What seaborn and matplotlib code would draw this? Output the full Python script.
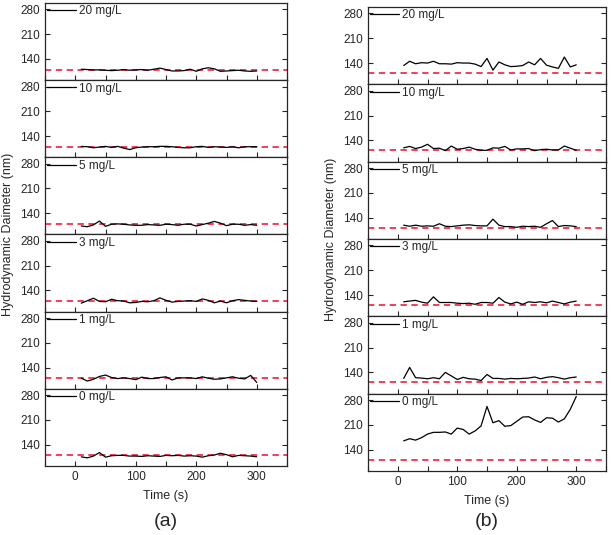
import numpy as np
import matplotlib
matplotlib.use('Agg')
import matplotlib.pyplot as plt
from matplotlib.ticker import MultipleLocator
import seaborn as sns

# ===== DATA =====
time_s = [10, 20, 30, 40, 50, 60, 70, 80, 90, 100, 110, 120, 130, 140, 150,
          160, 170, 180, 190, 200, 210, 220, 230, 240, 250, 260, 270, 280, 290, 300]
concentrations = ['20 mg/L', '10 mg/L', '5 mg/L', '3 mg/L', '1 mg/L', '0 mg/L']

# panel (a)
a_20 = [111, 110, 109, 109, 108, 107, 108, 110, 108, 109, 110, 108, 111, 114, 110,
        106, 106, 107, 111, 105, 112, 115, 112, 105, 106, 107, 108, 106, 105, 106]
a_10 = [111, 110, 107, 109, 111, 108, 111, 106, 102, 107, 109, 110, 110, 111, 111,
        110, 108, 107, 107, 110, 111, 108, 110, 109, 108, 110, 107, 110, 110, 110]
a_5 = [104, 102, 107, 118, 103, 109, 110, 109, 107, 106, 106, 108, 107, 106, 109,
       108, 106, 109, 109, 104, 108, 112, 117, 112, 105, 109, 109, 106, 108, 106]
a_3 = [104, 111, 118, 109, 108, 115, 111, 110, 105, 106, 109, 108, 111, 119, 112,
       107, 109, 110, 111, 109, 116, 112, 105, 110, 105, 111, 114, 112, 110, 109]
a_1 = [110, 102, 107, 115, 119, 112, 109, 111, 109, 106, 113, 109, 109, 112, 114,
       105, 111, 111, 111, 109, 114, 110, 107, 108, 111, 114, 110, 108, 118, 98]
a_0 = [106, 103, 108, 118, 105, 109, 110, 110, 108, 108, 107, 109, 108, 107, 110,
       109, 110, 108, 109, 108, 105, 109, 111, 116, 112, 106, 110, 109, 108, 106]
a_ref = 110

# panel (b)
b_20 = [133, 145, 138, 141, 140, 145, 138, 138, 137, 141, 140, 140, 137, 130, 153,
        120, 143, 135, 130, 131, 133, 143, 135, 153, 134, 129, 125, 157, 129, 135]
b_10 = [119, 123, 117, 121, 129, 117, 118, 111, 124, 115, 117, 121, 115, 112, 112,
        119, 118, 123, 113, 116, 116, 117, 111, 114, 115, 113, 113, 124, 118, 112]
b_5 = [119, 116, 119, 116, 117, 116, 123, 116, 115, 117, 119, 120, 118, 117, 117,
       136, 119, 115, 115, 113, 116, 115, 116, 113, 123, 132, 115, 118, 117, 115]
b_3 = [121, 123, 125, 120, 117, 135, 119, 119, 119, 117, 116, 117, 114, 119, 119,
       117, 133, 120, 115, 120, 114, 121, 119, 121, 118, 123, 119, 115, 120, 123]
b_1 = [123, 154, 125, 124, 122, 125, 122, 140, 130, 120, 126, 122, 121, 117, 134,
       123, 123, 121, 123, 122, 123, 124, 127, 122, 126, 128, 125, 121, 125, 127]
b_0 = [165, 171, 167, 174, 184, 189, 189, 190, 184, 201, 197, 184, 193, 207, 262,
       216, 222, 206, 208, 220, 232, 233, 224, 217, 230, 229, 218, 227, 254, 290]
b_ref = 112

panel_a = [a_20, a_10, a_5, a_3, a_1, a_0]
panel_b = [b_20, b_10, b_5, b_3, b_1, b_0]

# ===== STYLE =====
sns.set_style('ticks')
plt.rcParams['font.family'] = ['Liberation Sans', 'DejaVu Sans']
plt.rcParams['xtick.direction'] = 'in'
plt.rcParams['ytick.direction'] = 'in'

RED = '#f2304a'
W, H = 614, 535
fig = plt.figure(figsize=(W / 100, H / 100), dpi=100)


def draw_panel(series, ref, left, right, top, bottom, ylabel, tag):
    """Stack six strips sharing the time axis."""
    n = len(series)
    x0, x1 = left / W, right / W
    y_top, y_bot = 1 - top / H, 1 - bottom / H
    h = (y_top - y_bot) / n
    axes = []
    for i, (vals, conc) in enumerate(zip(series, concentrations)):
        ax = fig.add_axes([x0, y_top - (i + 1) * h, x1 - x0, h])
        ax.axhline(ref, color=RED, ls=(0, (3.5, 2.5)), lw=1.3, zorder=1)
        sns.lineplot(x=time_s, y=vals, ax=ax, color='black', lw=0.9,
                     label=conc, zorder=2)
        ax.set_xlim(-50, 350)
        ax.set_ylim(80, 298)
        ax.set_yticks([140, 210, 280])
        ax.xaxis.set_major_locator(MultipleLocator(100))
        ax.xaxis.set_minor_locator(MultipleLocator(50))
        ax.tick_params(axis='both', which='both', labelsize=8.5, length=3.5,
                       width=0.8, right=True, pad=3.5)
        for s in ax.spines.values():
            s.set_linewidth(0.9)
        ax.set_ylabel('')
        ax.set_xlabel('')
        if i < n - 1:
            ax.set_xticklabels([])
        ax.legend(loc='upper left', frameon=False, fontsize=8.5,
                  handlelength=2.4, handletextpad=0.3,
                  borderaxespad=0.1, borderpad=0.1)
        axes.append(ax)
    axes[-1].set_xlabel('Time (s)', fontsize=9, labelpad=5)
    fig.text((left - 37) / W, (y_top + y_bot) / 2, ylabel, rotation=90,
             ha='center', va='center', fontsize=9)
    fig.text((left + right) / 2 / W, 1 - 521 / H, tag, ha='center',
             va='center', fontsize=14)
    return axes


draw_panel(panel_a, a_ref, 45, 287, 3, 466,
           'Hydrodynamic Daimeter (nm)', '(a)')
draw_panel(panel_b, b_ref, 368, 606, 7, 471,
           'Hydrodynamic Diameter (nm)', '(b)')

fig.savefig('out.png', dpi=100)
